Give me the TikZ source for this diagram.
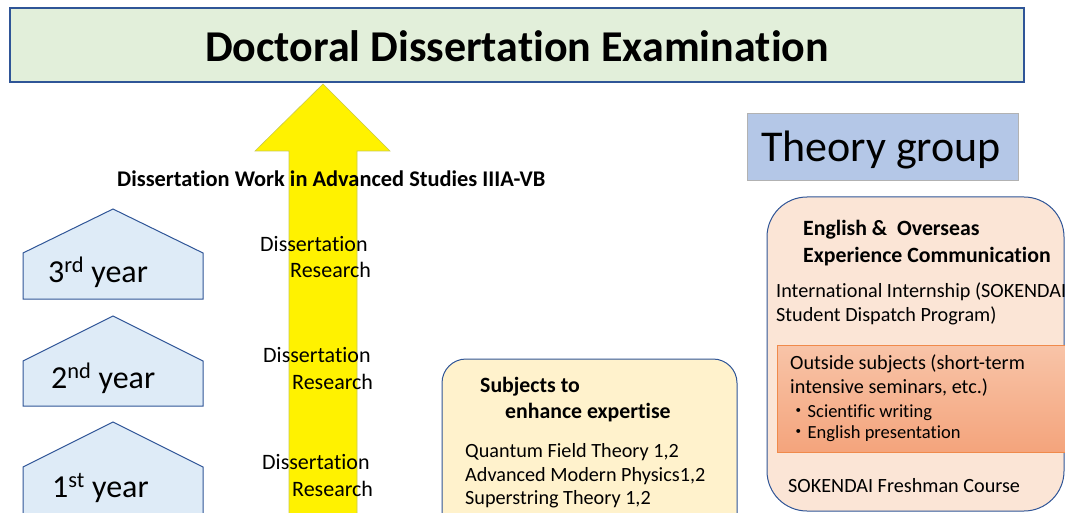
\documentclass[tikz,border=0pt]{standalone}
\usepackage{fontspec}
\setmainfont{Carlito}[Ligatures=NoCommon]
\newfontfamily\cjk{Noto Sans CJK JP}
\usepackage{tikz}
\usetikzlibrary{calc}
\usetikzlibrary{positioning}

\definecolor{frameblue}{HTML}{2F5597}
\definecolor{titlegreen}{HTML}{E2EFDA}
\definecolor{yearblue}{HTML}{DEEBF7}
\definecolor{subjyellow}{HTML}{FFF2CC}
\definecolor{grouptint}{HTML}{B4C7E7}
\definecolor{skinpeach}{HTML}{FBE5D6}
\definecolor{outtop}{HTML}{F8C4A8}
\definecolor{outbot}{HTML}{F4A47C}
\definecolor{outedge}{HTML}{F08A4B}
\definecolor{arrowedge}{HTML}{C8C850}

\tikzset{
  yearshape/.style={draw=frameblue,fill=yearblue,line width=1pt},
  yeartext/.style={anchor=base west,inner sep=0pt,font=\fontsize{32}{34}\selectfont},
  restext/.style={anchor=base west,inner sep=0pt,font=\fontsize{22}{24}\selectfont},
  boxtext/.style={anchor=base west,inner sep=0pt,font=\fontsize{20.2}{22}\selectfont},
  boldtext/.style={anchor=base west,inner sep=0pt,font=\fontsize{21.8}{23}\selectfont\bfseries},
  smalltext/.style={anchor=base west,inner sep=0pt,font=\fontsize{18.5}{20}\selectfont},
}

\begin{document}
\begin{tikzpicture}[x=1pt,y=-1pt]

\useasboundingbox (0,0) rectangle (1065,513);
\clip (0,0) rectangle (1065,513);

% title
\draw[frameblue,fill=titlegreen,line width=1.2pt] (10,8) rectangle (1024,82);
\node[anchor=base,inner sep=0pt,font=\fontsize{44}{48}\selectfont\bfseries] (title) at (517,62) {Doctoral Dissertation Examination};

% yellow arrow
\coordinate (tip) at (323,84);
\draw[arrowedge,fill=yellow,line width=0.6pt] (tip)-- (390,151)-- (357,151)-- (357,520)-- (289,520)-- (289,151)-- (255,151)-- cycle;

\node[boldtext,font=\fontsize{22.4}{24}\selectfont\bfseries] (work) at (117,187) {Dissertation Work in Advanced Studies IIIA-VB};

% years
\draw[yearshape] (23,299)-- (23,253)-- (113,209)-- (203,253)-- (203,299)-- cycle;
\draw[yearshape] (23,406)-- (23,361)-- (113,316)-- (203,361)-- (203,406)-- cycle;
\draw[yearshape] (23,530)-- (23,467)-- (113,422)-- (203,467)-- (203,530)-- cycle;

\node[yeartext] (third) at (48,282) {3\textsuperscript{rd} year};
\node[yeartext] (second) at (51,388) {2\textsuperscript{nd} year};
\node[yeartext] (first) at (52,497) {1\textsuperscript{st} year};

\node[restext] (diss3) at (260,251) {Dissertation};
\node[restext] (res3) at (290,277) {Research};
\node[restext] (diss2) at (263,362) {Dissertation};
\node[restext] (res2) at (292,389) {Research};
\node[restext] (diss1) at (262,469) {Dissertation};
\node[restext] (res1) at (292,496) {Research};

% subjects
\draw[frameblue,fill=subjyellow,line width=1pt,rounded corners=24pt] (442,359) rectangle (737,540);
\node[boldtext] (subj) at (480,392) {Subjects to};
\node[boldtext] (subj2) at (505,418) {enhance expertise};
\node[boxtext] (qft) at (465,457) {Quantum Field Theory 1,2};
\node[boxtext] (amp) at (465,481) {Advanced Modern Physics1,2};
\node[boxtext] (sst) at (465,504) {Superstring Theory 1,2};

% theory group
\draw[gray!60,fill=grouptint,line width=0.8pt] (747,113) rectangle (1018,180);
\node[anchor=base west,inner sep=0pt,font=\fontsize{44}{48}\selectfont] (theory) at (761,162) {Theory group};

\draw[frameblue,fill=skinpeach,line width=1pt,rounded corners=40pt] (767,197) rectangle (1064,511);
\node[boldtext] (eng) at (803,235) {English \&\ \ Overseas};
\node[boldtext] (exp) at (803,262) {Experience Communication};
\node[boxtext] (intern) at (776,297) {International Internship (SOKENDAI};
\node[boxtext] (intern2) at (776,321) {Student Dispatch Program)};

\draw[outedge,top color=outtop,bottom color=outbot,line width=0.8pt] (777,345) rectangle (1080,452);
\node[boxtext] (outside) at (790,369) {Outside subjects (short-term};
\node[boxtext] (outside2) at (790,393) {intensive seminars, etc.)};
\node[smalltext] (sci) at (789,417) {{\cjk ・}Scientific writing};
\node[smalltext] (pres) at (789,438) {{\cjk ・}English presentation};

\node[boxtext] (fresh) at (788,492) {SOKENDAI Freshman Course};

\end{tikzpicture}
\end{document}
